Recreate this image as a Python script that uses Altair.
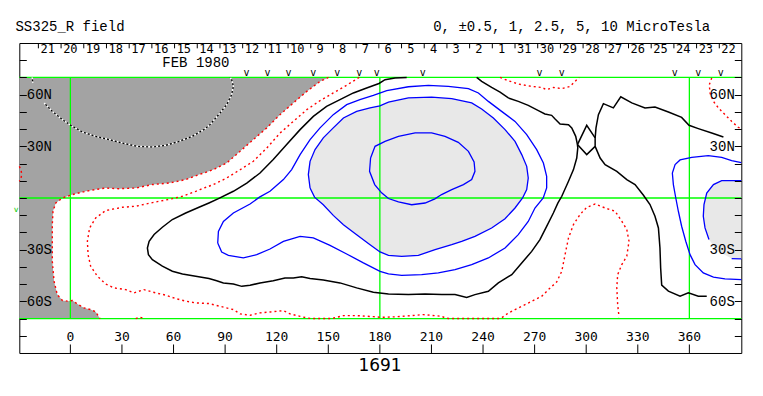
import altair as alt
import pandas as pd

# ---------------- values ----------------
LON_DOMAIN = [-29.7, 390.2]
LAT_DOMAIN = [-90, 90]

X_TICKS = [0, 30, 60, 90, 120, 150, 180, 210, 240, 270, 300, 330, 360]
LAT_TICKS = [-80, -70, -60, -50, -40, -30, -20, -10, 0, 10, 20, 30, 40, 50, 60, 70, 80]
LAT_LABEL_VALUES = [60, 30, -30, -60]
LAT_LABEL_TEXT = ["60N", "30N", "30S", "60S"]

GRID_LAT = [70, 0, -70]
GRID_LON = [0, 180, 360]
GRID_LAT_LO = -70
GRID_LAT_HI = 70

DAY_LABELS = ["21", "20", "19", "18", "17", "16", "15", "14", "13", "12", "11", "10", "9", "8", "7",
              "6", "5", "4", "3", "2", "1", "31", "30", "29", "28", "27", "26", "25", "24", "23", "22"]
DAY_LON = [-13.2, 0.0, 13.2, 26.4, 39.6, 52.8, 66.0, 79.2, 92.4, 105.6, 118.8, 132.0, 145.2, 158.4, 171.6,
           184.8, 198.0, 211.2, 224.4, 237.6, 250.8, 264.0, 277.2, 290.4, 303.6, 316.8, 330.0, 343.2, 356.4,
           369.6, 382.8]
DAY_TICK_LON = [-18.6, -5.4, 7.8, 21.0, 34.2, 47.4, 60.6, 73.8, 87.0, 100.2, 113.4, 126.6, 139.8, 153.0,
                166.2, 179.4, 192.6, 205.8, 219.0, 232.2, 245.4, 258.6, 271.8, 285.0, 298.2, 311.4, 324.6,
                337.8, 351.0, 364.2, 377.4]
DAY_LAT = 86.5
DAY_TICK_TOP = 90.0
DAY_TICK_BOTTOM = 86.9

MARKER_LON = [102.4, 114.7, 126.9, 141.3, 155.2, 168.0, 178.2, 205.0, 272.8, 285.8, 351.5, 365.1, 378.3]
MARKER_LAT = 72.3
SIDE_MARK = (-31.6, -6.8)

MONTH_TEXT = "FEB 1980"
MONTH_POS = (73.0, 78.4)
TITLE_TEXT = "SS325_R field"
UNITS_TEXT = "0, \u00b10.5, 1, 2.5, 5, 10 MicroTesla"
ROTATION_TEXT = "1691"

# contour paths (longitude, latitude)
GREY_EDGE = [(150.1, 70.0), (145.2, 67.7), (137.5, 61.9), (129.7, 55.2), (121.9, 48.4), (114.2, 40.7),
             (106.4, 33.9), (98.7, 27.1), (90.9, 20.3), (83.2, 16.5), (78.0, 14.6), (74.8, 13.6),
             (67.1, 10.7), (57.4, 8.7), (47.7, 7.8), (38.0, 5.8), (28.3, 5.4), (20.5, 5.8), (14.7, 4.9),
             (8.9, 3.9), (1.2, 2.0), (-4.6, 0.0), (-8.5, -2.9), (-10.1, -7.7), (-10.5, -15.4),
             (-10.5, -25.1), (-10.5, -36.7), (-9.5, -48.3), (-7.6, -56.1), (-4.6, -59.5), (-1.7, -59.9),
             (1.2, -59.5), (4.1, -61.5), (8.0, -63.8), (11.8, -64.8), (14.7, -66.1), (16.7, -69.2),
             (17.2, -70.0)]
DARK_CORNERS = [(-29.7, -70.0), (-29.7, 70.0)]

RED_POCKET = [(-29.7, 18.4), (-28.7, 16.5), (-28.3, 13.6), (-28.9, 10.7), (-29.7, 9.7)]
RED_SMALL_BOTTOM = [(38.0, -70.0), (40.5, -69.2), (43.0, -70.0)]
RED_TOP_MID = [(249.9, 70.0), (254.7, 68.1), (260.5, 66.2), (268.3, 64.8), (274.1, 64.2), (277.0, 62.9),
               (280.9, 64.2), (285.8, 63.5), (290.6, 64.8), (293.5, 67.7), (295.9, 70.0)]
RED_TOP_RIGHT = [(373.0, 69.7), (371.6, 65.8), (372.0, 61.0), (374.0, 56.1), (376.9, 52.3), (380.7, 48.4),
                 (384.6, 44.5), (388.5, 41.0), (390.2, 40.2)]
RED_LONG = [(168.0, 70.0), (160.7, 65.5), (152.9, 61.0), (145.2, 56.5), (137.5, 51.3), (129.7, 44.5),
            (121.9, 37.7), (114.2, 29.0), (106.4, 21.3), (98.7, 16.4), (90.9, 11.6), (83.2, 7.8),
            (75.4, 4.9), (72.9, 3.9), (65.1, 1.0), (59.3, -0.4), (51.6, -1.9), (43.8, -3.5), (38.0, -4.8),
            (30.2, -5.4), (20.5, -7.3), (14.7, -11.6), (11.2, -17.4), (9.9, -25.1), (10.3, -32.9),
            (11.8, -39.6), (15.7, -45.4), (20.5, -49.9), (25.4, -52.2), (32.2, -53.2), (37.0, -55.1),
            (42.8, -53.2), (49.6, -55.1), (55.4, -56.4), (61.2, -58.4), (67.1, -59.9), (72.9, -60.9),
            (80.6, -61.3), (87.1, -62.9), (94.8, -64.8), (98.7, -67.3), (104.5, -68.1), (110.3, -66.7),
            (116.1, -66.2), (123.9, -65.4), (127.8, -67.3), (133.6, -68.7), (137.4, -69.6), (140.0, -70.0),
            (152.0, -70.0), (154.9, -69.3), (158.8, -68.3), (166.5, -68.3), (176.2, -68.9), (181.0, -69.3),
            (188.8, -69.0), (198.5, -68.3), (205.3, -67.7), (216.0, -68.7), (217.9, -69.6), (220.0, -70.0),
            (249.0, -70.0), (250.8, -69.6), (254.7, -66.8), (258.6, -64.8), (262.5, -62.9), (266.3, -61.0),
            (270.2, -59.0), (274.1, -57.1), (278.0, -53.2), (282.8, -48.8), (285.8, -42.5), (287.7, -32.9),
            (289.7, -23.2), (292.6, -15.4), (296.4, -9.6), (300.3, -5.4), (305.2, -3.5), (311.0, -5.8),
            (316.8, -7.7), (320.7, -13.5), (323.6, -18.3), (324.9, -25.1), (323.6, -33.8), (320.7, -38.7),
            (318.3, -44.5), (317.8, -52.2), (318.3, -61.9), (319.1, -69.2)]

WHITE_TOP = [(-22.3, 70.0), (-21.7, 66.5)]
WHITE_MAIN = [(-15.3, 55.2), (-10.5, 50.3), (-4.6, 45.5), (0.2, 42.2), (7.0, 38.3), (14.7, 35.8),
              (22.5, 33.9), (30.2, 31.9), (39.0, 30.0), (47.7, 29.6), (55.4, 30.6), (63.2, 32.9),
              (70.9, 35.8), (77.7, 39.7), (81.2, 42.6), (87.1, 49.4), (90.9, 54.2), (93.8, 60.0),
              (94.8, 64.8), (93.8, 68.7), (92.9, 70.0)]

BLACK_U = [(195.6, 70.0), (188.8, 69.7), (183.0, 68.7), (179.5, 66.5), (172.3, 63.9), (164.6, 61.0),
           (156.8, 57.1), (149.0, 53.2), (141.3, 47.4), (133.6, 39.7), (125.8, 31.0), (118.0, 22.3),
           (110.3, 14.5), (102.6, 8.7), (94.8, 3.9), (86.1, -0.4), (80.6, -2.9), (74.8, -5.4), (67.1, -8.7),
           (59.3, -12.5), (53.5, -17.0), (48.7, -21.2), (45.8, -25.1), (44.8, -29.0), (45.4, -32.9),
           (47.7, -35.8), (53.5, -39.6), (59.3, -42.5), (65.2, -44.1), (72.9, -45.4), (80.6, -46.8),
           (85.1, -48.0), (89.0, -49.3), (94.8, -49.9), (99.7, -51.3), (104.5, -50.7), (110.3, -49.3),
           (118.0, -48.0), (124.8, -46.4), (129.7, -46.4), (134.5, -45.7), (139.4, -46.8), (147.1, -47.6),
           (156.8, -49.3), (166.5, -52.2), (176.2, -54.7), (185.0, -55.7), (196.6, -56.1), (206.3, -55.7),
           (216.0, -56.1), (223.7, -56.1), (230.5, -57.7), (235.3, -56.1), (243.1, -54.2), (248.9, -49.3),
           (256.7, -44.5), (262.5, -37.7), (268.3, -31.0), (273.1, -24.2), (277.0, -16.5), (280.9, -8.7),
           (283.5, -3.0), (285.8, 1.0), (289.7, 9.7), (292.6, 16.5), (294.5, 23.2), (295.1, 29.1),
           (294.9, 31.0), (293.9, 35.8), (291.6, 40.7), (289.7, 42.6), (284.8, 43.0), (281.9, 45.9),
           (279.9, 48.0), (276.0, 48.8), (272.2, 50.7), (266.3, 53.8), (260.5, 56.1), (254.7, 58.1),
           (249.9, 61.5), (245.0, 64.2), (239.2, 67.7), (236.3, 70.0)]
BLACK_DIAMOND = [(294.9, 31.0), (300.3, 42.2), (305.2, 34.9), (305.2, 30.0), (300.3, 25.2), (294.9, 31.0)]
BLACK_B_TOP = [(305.2, 34.9), (305.7, 40.7), (307.1, 48.4), (310.0, 54.8), (315.8, 52.3), (320.1, 58.8),
               (326.5, 55.2), (334.2, 52.3), (340.0, 52.8), (347.8, 49.9), (355.5, 46.8), (359.8, 42.2),
               (365.2, 40.3), (373.0, 37.7), (379.8, 35.4)]
BLACK_B_BOTTOM = [(305.2, 30.0), (308.1, 23.2), (311.0, 19.4), (317.8, 15.5), (323.6, 10.7), (328.4, 7.8),
                  (333.3, 1.6), (337.1, -3.8), (340.0, -10.6), (342.0, -17.4), (342.9, -29.0),
                  (343.3, -40.6), (343.9, -50.6), (347.8, -54.1), (354.6, -57.0), (359.4, -55.1),
                  (365.2, -57.0), (370.1, -57.0)]

BLUE_1 = [(85.7, -26.1), (86.1, -19.4), (89.0, -13.6), (94.8, -8.7), (104.5, -3.5), (110.0, 0.5),
          (116.1, 3.9), (123.9, 10.7), (128.7, 16.5), (133.6, 25.2), (139.4, 33.9), (145.2, 40.7),
          (152.9, 48.4), (160.7, 54.2), (168.4, 57.1), (176.2, 59.6), (184.0, 62.3), (196.6, 64.6),
          (208.2, 65.4), (219.8, 64.8), (231.5, 63.5), (237.3, 61.0), (243.1, 56.1), (250.8, 50.3),
          (258.6, 44.5), (265.4, 36.8), (271.2, 28.1), (275.1, 20.3), (277.0, 12.6), (277.0, 5.8),
          (275.0, 0.0), (270.2, -5.8), (266.3, -13.6), (260.5, -21.3), (252.8, -29.0), (243.1, -34.8),
          (233.4, -38.7), (223.7, -41.6), (214.0, -43.5), (204.3, -44.5), (192.7, -44.9), (185.0, -44.1),
          (180.1, -42.6), (170.4, -37.7), (160.7, -32.5), (151.0, -27.5), (141.3, -23.2), (133.6, -22.3),
          (123.9, -25.2), (116.1, -29.6), (108.4, -32.9), (100.6, -34.8), (91.9, -33.3), (88.0, -31.4),
          (85.7, -26.1)]
BLUE_2 = [(139.4, 5.8), (138.4, 13.6), (139.4, 21.3), (142.3, 28.1), (147.1, 34.9), (152.9, 40.7),
          (158.8, 46.5), (166.5, 50.3), (174.3, 52.3), (180.0, 53.5), (185.0, 55.7), (196.6, 58.1),
          (210.1, 58.6), (221.8, 57.7), (233.4, 55.2), (239.2, 51.7), (246.0, 46.5), (252.8, 39.7),
          (258.6, 32.9), (262.5, 25.2), (265.4, 18.4), (266.3, 11.6), (265.4, 4.9), (263.0, 0.0),
          (258.6, -5.8), (252.8, -12.0), (245.0, -17.4), (235.3, -22.3), (227.6, -25.2), (221.8, -27.1),
          (212.1, -30.0), (202.4, -33.3), (192.7, -33.9), (185.0, -33.3), (180.1, -31.3), (174.3, -27.1),
          (166.5, -21.3), (158.8, -15.5), (152.9, -10.1), (147.1, -3.9), (142.0, 0.5), (139.4, 5.8)]
BLUE_3 = [(174.6, 23.2), (177.2, 30.0), (183.0, 32.9), (190.8, 35.8), (200.5, 37.8), (210.1, 37.8),
          (217.9, 35.8), (225.6, 32.3), (231.5, 27.1), (234.8, 20.9), (235.3, 15.5), (233.4, 10.7),
          (228.6, 7.8), (221.8, 4.9), (215.9, 2.0), (212.0, -0.5), (206.3, -2.9), (198.5, -3.9),
          (190.8, -2.3), (185.0, -0.3), (181.0, 3.0), (177.0, 7.8), (174.0, 15.5), (174.6, 23.2)]
BLUE_R1 = [(390.2, 20.6), (384.6, 21.7), (378.8, 23.6), (371.0, 24.6), (361.4, 23.6), (354.6, 22.1),
           (351.7, 19.4), (350.1, 14.5), (350.7, 7.8), (352.1, 0.0), (353.6, -7.7), (355.5, -16.4),
           (357.9, -25.1), (360.4, -32.9), (363.3, -38.7), (368.1, -43.5), (374.0, -46.0), (380.7, -47.0),
           (390.2, -47.4)]
BLUE_R2 = [(390.2, 10.1), (378.8, 10.1), (374.0, 7.8), (370.1, 2.9), (368.5, -3.8), (368.1, -10.6),
           (369.1, -17.4), (371.4, -24.1)]
BLUE_R2_END = [(384.6, -35.2), (390.2, -35.4)]
LIGHT_RIGHT = BLUE_R2 + [(376.0, -30.5)] + BLUE_R2_END

# ---------------- chart ----------------
W, H = 722, 310
xs = alt.Scale(domain=LON_DOMAIN, nice=False, zero=False)
ys = alt.Scale(domain=LAT_DOMAIN, nice=False, zero=False)
X = alt.X("lon:Q", scale=xs, axis=None)
Y = alt.Y("lat:Q", scale=ys, axis=None)


def path_df(segments):
    rows = []
    for name, pts in segments.items():
        for i, (lo, la) in enumerate(pts):
            rows.append({"seg": name, "i": i, "lon": lo, "lat": la})
    return pd.DataFrame(rows)


def paths(segments, **mark):
    return alt.Chart(path_df(segments)).mark_line(**mark).encode(
        x=X, y=Y, detail="seg:N", order="i:Q")


dark_fill = paths({"dark": [DARK_CORNERS[1]] + GREY_EDGE + [DARK_CORNERS[0]]},
                  interpolate="linear-closed", fill="#a3a3a3", strokeWidth=0, strokeOpacity=0)
light_fill = paths({"c": BLUE_2, "r": LIGHT_RIGHT},
                   interpolate="linear-closed", fill="#e8e8e8", strokeWidth=0, strokeOpacity=0)

label_expr = "".join(f"datum.value == {v} ? '{t}' : " for v, t in zip(LAT_LABEL_VALUES, LAT_LABEL_TEXT)) + "''"
lat_axis_common = dict(values=LAT_TICKS, tickSize=7, tickColor="black", tickWidth=1, domain=False,
                       grid=False, title=None, labelExpr=label_expr, labelFont="Liberation Mono",
                       labelFontSize=14, labelColor="black", labelPadding=0, labelOverlap=False,
                       labelFlush=False, zindex=1)

grid_h = alt.Chart(pd.DataFrame({"lat": GRID_LAT})).mark_rule(color="#00ff00", strokeWidth=1.3).encode(
    y=alt.Y("lat:Q", scale=ys, axis=alt.Axis(orient="right", offset=-W, **lat_axis_common)))

grid_v = alt.Chart(pd.DataFrame({"lon": GRID_LON, "lo": GRID_LAT_LO, "hi": GRID_LAT_HI})).mark_rule(
    color="#00ff00", strokeWidth=1.3).encode(
    x=X, y=alt.Y("lo:Q", scale=ys, axis=None), y2="hi:Q")

# longitude ticks pointing up from the bottom frame, labels above them
x_tick_df = pd.DataFrame({"lon": X_TICKS, "t": [str(v) for v in X_TICKS]})
x_ticks = alt.Chart(x_tick_df).mark_rule(color="black", strokeWidth=1).encode(
    x=X, y=alt.value(H), y2=alt.value(H - 8.5))
x_labels = alt.Chart(x_tick_df).mark_text(
    font="DejaVu Sans Mono", fontSize=13, color="black", baseline="middle", align="center").encode(
    x=X, y=alt.value(H - 15.5), text="t:N")

white_under = paths({"a": WHITE_TOP, "b": WHITE_MAIN}, color="black", strokeWidth=1.2)
white_dots = paths({"a": WHITE_TOP, "b": WHITE_MAIN}, color="white", strokeWidth=1.6, strokeDash=[2, 2])
red = paths({"edge": GREY_EDGE, "pocket": RED_POCKET, "small": RED_SMALL_BOTTOM, "topmid": RED_TOP_MID,
             "topright": RED_TOP_RIGHT, "long": RED_LONG},
            color="#ff0000", strokeWidth=1.4, strokeDash=[2, 3])
black = paths({"u": BLACK_U, "d": BLACK_DIAMOND, "bt": BLACK_B_TOP, "bb": BLACK_B_BOTTOM},
              color="black", strokeWidth=1.5)
blue = paths({"b1": BLUE_1, "b2": BLUE_2, "b3": BLUE_3, "r1": BLUE_R1, "r2": BLUE_R2, "r2e": BLUE_R2_END},
             color="#0000ff", strokeWidth=1.3)

markers = alt.Chart(pd.DataFrame({"lon": MARKER_LON, "lat": MARKER_LAT, "t": "v"})).mark_text(
    font="DejaVu Sans Mono", fontSize=10, color="black", baseline="middle").encode(x=X, y=Y, text="t:N")
side_mark = alt.Chart(pd.DataFrame({"lon": [SIDE_MARK[0]], "lat": [SIDE_MARK[1]], "t": ["v"]})).mark_text(
    font="DejaVu Sans Mono", fontSize=8, color="#00cc00", baseline="middle").encode(x=X, y=Y, text="t:N")

day_ticks = alt.Chart(pd.DataFrame({"lon": DAY_TICK_LON, "top": DAY_TICK_TOP, "bot": DAY_TICK_BOTTOM})).mark_rule(
    color="black", strokeWidth=1).encode(x=X, y=alt.Y("top:Q", scale=ys, axis=None), y2="bot:Q")
day_text = alt.Chart(pd.DataFrame({"lon": DAY_LON, "lat": DAY_LAT, "t": DAY_LABELS})).mark_text(
    font="DejaVu Sans Mono", fontSize=12, color="black", baseline="middle").encode(x=X, y=Y, text="t:N")
month = alt.Chart(pd.DataFrame({"lon": [MONTH_POS[0]], "lat": [MONTH_POS[1]], "t": [MONTH_TEXT]})).mark_text(
    font="Liberation Mono", fontSize=14, color="black", baseline="middle").encode(x=X, y=Y, text="t:N")

title = alt.Chart(pd.DataFrame({"t": [TITLE_TEXT]})).mark_text(
    font="Liberation Mono", fontSize=14, color="black", baseline="middle", align="center").encode(
    x=alt.value(50.7), y=alt.value(-16), text="t:N")
units = alt.Chart(pd.DataFrame({"t": [UNITS_TEXT]})).mark_text(
    font="Liberation Mono", fontSize=14, color="black", baseline="middle", align="center").encode(
    x=alt.value(552.4), y=alt.value(-16), text="t:N")
rotation = alt.Chart(pd.DataFrame({"t": [ROTATION_TEXT]})).mark_text(
    font="DejaVu Sans", fontSize=17, color="black", baseline="middle", align="center").encode(
    x=alt.value(360.7), y=alt.value(323.5), text="t:N")

right_axis = alt.Chart(pd.DataFrame({"lat": LAT_TICKS})).mark_point(opacity=0, size=0).encode(
    y=alt.Y("lat:Q", scale=ys, axis=alt.Axis(orient="left", offset=-W, **lat_axis_common)))

chart = alt.layer(
    dark_fill, light_fill, grid_h, grid_v, white_under, white_dots, red, black, blue,
    x_ticks, x_labels, markers, side_mark, day_ticks, day_text, month, title, units, rotation, right_axis
).resolve_axis(y="independent").properties(
    width=W, height=H,
    autosize=alt.AutoSizeParams(type="none"),
    padding={"left": 11.3, "top": 35, "right": 13, "bottom": 35},
    background="white",
).configure_view(stroke="black", strokeWidth=1)

chart.save("out.html", embed_options={"renderer": "svg", "actions": False})
